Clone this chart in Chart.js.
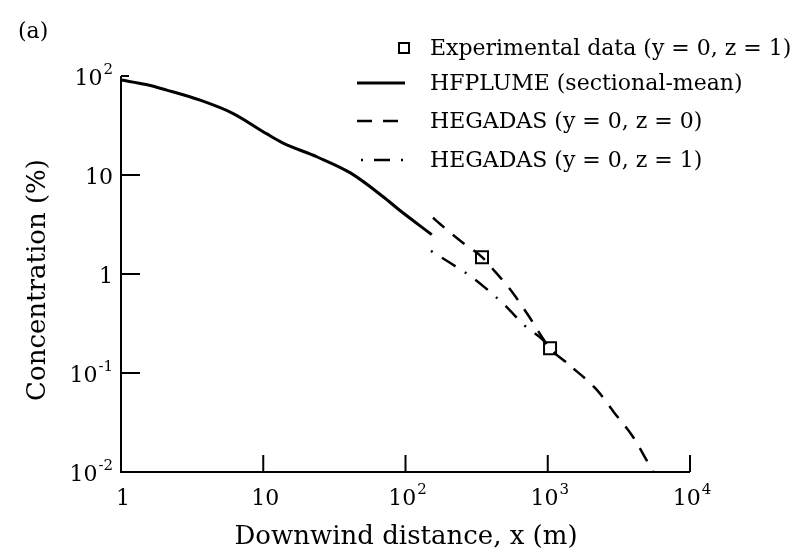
<!DOCTYPE html>
<html>
<head>
<meta charset="utf-8">
<script src="https://cdn.jsdelivr.net/npm/chart.js@4.4.1/dist/chart.umd.min.js"></script>
<style>
  html, body { margin: 0; padding: 0; background: #fff; }
  #wrap { width: 803px; height: 555px; }
</style>
</head>
<body>
<div id="wrap"><canvas id="chart" width="803" height="555"></canvas></div>
<script>
// HFPLUME sectional-mean concentration (%) against downwind distance (m)
const hfplumeX = [1, 1.5, 2.1, 3.6, 6.1, 10.6, 13.8, 24, 41, 70, 91, 153];
const hfplumeY = [91, 82, 72, 57, 42, 26, 21, 15.2, 10.5, 6.0, 4.4, 2.5];

// HEGADAS, centreline at ground level (y = 0, z = 0)
const hegZ0X = [156, 175, 254, 345, 405, 552, 727, 1038, 1400, 2183, 2924, 3981, 5500];
const hegZ0Y = [3.7, 3.2, 2.06, 1.48, 1.15, 0.68, 0.385, 0.178, 0.122, 0.069, 0.040, 0.0226, 0.01];

// HEGADAS, centreline at 1 m height (y = 0, z = 1)
const hegZ1X = [151, 212, 293, 393, 517, 681, 927, 1038, 1343];
const hegZ1Y = [1.71, 1.26, 0.93, 0.66, 0.46, 0.305, 0.215, 0.178, 0.129];

// measured points (y = 0, z = 1)
const expX = [345, 1038];
const expY = [1.48, 0.178];

// decade ticks: [base, exponent]
const xTicks = [1, 10, 100, 1000, 10000];
const xTickLabels = [['1', ''], ['10', ''], ['10', '2'], ['10', '3'], ['10', '4']];
const yTicks = [100, 10, 1, 0.1, 0.01];
const yTickLabels = [['10', '2'], ['10', ''], ['1', ''], ['10', '-1'], ['10', '-2']];

const legendLabels = [
  'Experimental data (y = 0, z = 1)',
  'HFPLUME (sectional-mean)',
  'HEGADAS (y = 0, z = 0)',
  'HEGADAS (y = 0, z = 1)'
];

const FONT = '"DejaVu Serif", "Liberation Serif", serif';

function toPoints(xs, ys) {
  return xs.map((x, i) => ({ x: x, y: ys[i] }));
}

// draws "10" with a raised exponent
function drawPower(ctx, base, exp, x, y, align) {
  ctx.font = '22px ' + FONT;
  const bw = ctx.measureText(base).width;
  ctx.font = '15px ' + FONT;
  const ew = exp ? ctx.measureText(exp).width + 1 : 0;
  const total = bw + ew;
  let left = x;
  if (align === 'center') left = x - total / 2;
  if (align === 'right') left = x - total;
  ctx.textAlign = 'left';
  ctx.textBaseline = 'middle';
  ctx.font = '22px ' + FONT;
  ctx.fillText(base, left, y);
  if (exp) {
    ctx.font = '15px ' + FONT;
    ctx.fillText(exp, left + bw + 1, y - 9);
  }
}

const axesPlugin = {
  id: 'axesPlugin',
  afterDraw(chart) {
    const ctx = chart.ctx;
    const xs = chart.scales.x;
    const ys = chart.scales.y;
    const area = chart.chartArea;
    ctx.save();
    ctx.strokeStyle = '#000';
    ctx.fillStyle = '#000';
    ctx.lineWidth = 2;

    // left and bottom axis lines
    ctx.beginPath();
    ctx.moveTo(area.left, area.top);
    ctx.lineTo(area.left, area.bottom);
    ctx.lineTo(area.right, area.bottom);
    ctx.stroke();

    // inward tick marks
    ctx.beginPath();
    xTicks.forEach(v => {
      if (v === xs.min) return;
      const px = xs.getPixelForValue(v);
      ctx.moveTo(px, area.bottom);
      ctx.lineTo(px, area.bottom - 17);
    });
    yTicks.forEach(v => {
      if (v === ys.min) return;
      const py = ys.getPixelForValue(v);
      ctx.moveTo(area.left, py);
      ctx.lineTo(area.left + (v === ys.max ? 8 : 19), py);
    });
    ctx.stroke();

    // tick labels
    xTicks.forEach((v, i) => {
      const px = xs.getPixelForValue(v);
      drawPower(ctx, xTickLabels[i][0], xTickLabels[i][1], px + 2, area.bottom + 27, 'center');
    });
    yTicks.forEach((v, i) => {
      const py = ys.getPixelForValue(v);
      drawPower(ctx, yTickLabels[i][0], yTickLabels[i][1], area.left - 8, py + 3, 'right');
    });

    // axis titles
    ctx.textAlign = 'center';
    ctx.textBaseline = 'middle';
    ctx.font = '26px ' + FONT;
    ctx.fillText('Downwind distance, x (m)', 406, 537);
    ctx.save();
    ctx.translate(38, 280);
    ctx.rotate(-Math.PI / 2);
    ctx.fillText('Concentration (%)', 0, 0);
    ctx.restore();

    // panel letter
    ctx.textAlign = 'left';
    ctx.font = '22px ' + FONT;
    ctx.fillText('(a)', 18, 32);

    // legend
    const rows = [48, 83, 121, 160];
    const ds = chart.data.datasets;
    ctx.font = '22px ' + FONT;
    ctx.textBaseline = 'middle';
    rows.forEach((ry, i) => {
      ctx.fillText(legendLabels[i], 430, ry + 1);
    });
    // marker sample
    ctx.lineWidth = 2;
    ctx.setLineDash([]);
    ctx.strokeRect(399, rows[0] - 5, 10, 10);
    // line samples
    const samples = [null, ds[0], ds[1], ds[2]];
    for (let i = 1; i < 4; i++) {
      ctx.beginPath();
      ctx.lineWidth = samples[i].borderWidth;
      ctx.setLineDash(samples[i].borderDash || []);
      ctx.moveTo(i === 3 ? 361 : 357, rows[i]);
      ctx.lineTo(i === 3 ? 413 : 405, rows[i]);
      ctx.stroke();
    }
    ctx.restore();
  }
};

const ctx = document.getElementById('chart');
new Chart(ctx, {
  type: 'line',
  data: {
    datasets: [
      {
        label: legendLabels[1],
        data: toPoints(hfplumeX, hfplumeY),
        borderColor: '#000',
        borderWidth: 3,
        pointRadius: 0,
        cubicInterpolationMode: 'monotone'
      },
      {
        label: legendLabels[2],
        data: toPoints(hegZ0X, hegZ0Y),
        borderColor: '#000',
        borderWidth: 2.5,
        borderDash: [15, 11],
        pointRadius: 0,
        cubicInterpolationMode: 'monotone'
      },
      {
        label: legendLabels[3],
        data: toPoints(hegZ1X, hegZ1Y),
        borderColor: '#000',
        borderWidth: 2.5,
        borderDash: [2, 11, 16, 11],
        pointRadius: 0,
        cubicInterpolationMode: 'monotone'
      },
      {
        label: legendLabels[0],
        data: toPoints(expX, expY),
        showLine: false,
        pointStyle: 'rect',
        pointRadius: 8.5,
        pointBorderWidth: 2,
        pointBorderColor: '#000',
        pointBackgroundColor: '#fff'
      }
    ]
  },
  options: {
    responsive: false,
    animation: false,
    layout: { padding: { left: 121, right: 113, top: 76, bottom: 83 } },
    plugins: {
      legend: { display: false },
      tooltip: { enabled: false }
    },
    scales: {
      x: { type: 'logarithmic', min: 1, max: 10000, display: false },
      y: { type: 'logarithmic', min: 0.01, max: 100, display: false }
    }
  },
  plugins: [axesPlugin]
});
</script>
</body>
</html>
